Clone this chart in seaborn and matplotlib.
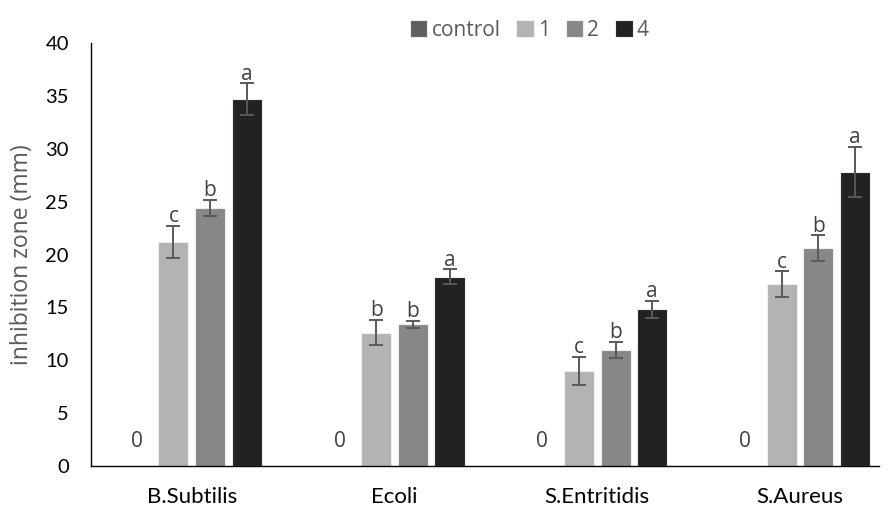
import pandas as pd
import matplotlib.pyplot as plt
import seaborn as sns

bacteria = ["B.Subtilis", "Ecoli", "S.Entritidis", "S.Aureus"]
doses = ["control", "1", "2", "4"]

control = [0, 0, 0, 0]
dose1 = [21.2, 12.6, 9.0, 17.2]
dose2 = [24.4, 13.4, 11.0, 20.6]
dose4 = [34.7, 17.9, 14.8, 27.8]

err_control = [0, 0, 0, 0]
err1 = [1.5, 1.2, 1.35, 1.2]
err2 = [0.8, 0.35, 0.75, 1.2]
err4 = [1.5, 0.7, 0.8, 2.4]

letters_control = ["0", "0", "0", "0"]
letters1 = ["c", "b", "c", "c"]
letters2 = ["b", "b", "b", "b"]
letters4 = ["a", "a", "a", "a"]

colors = ["#5f5f5f", "#b3b3b3", "#878787", "#222222"]

sns.set_style("white")
plt.rcParams['font.family'] = ['Lato', 'DejaVu Sans']
label_font = ['Open Sans', 'DejaVu Sans']

rows = []
for dose, vals in zip(doses, [control, dose1, dose2, dose4]):
    for b, v in zip(bacteria, vals):
        rows.append({"bacteria": b, "dose": dose, "value": v})
df = pd.DataFrame(rows)

fig = plt.figure(figsize=(8.88, 5.07), dpi=100)
ax = fig.add_axes([91/888, 41/507, 788/888, 423/507])

sns.barplot(data=df, x="bacteria", y="value", hue="dose", order=bacteria,
            hue_order=doses, palette=colors, width=0.724, gap=0.18,
            errorbar=None, edgecolor="#eeeeee", linewidth=0.8, ax=ax)

errs = [err_control, err1, err2, err4]
letters = [letters_control, letters1, letters2, letters4]
for cont, e, lab in zip(ax.containers, errs, letters):
    xs = [p.get_x() + p.get_width() / 2 for p in cont.patches]
    hs = [p.get_height() for p in cont.patches]
    if any(e):
        ax.errorbar(xs, hs, yerr=e, fmt="none", ecolor="#595959",
                    elinewidth=1.4, capsize=5, capthick=1.4, zorder=3)
    for x, h, err, t in zip(xs, hs, e, lab):
        off = 10 if h == 0 else -1
        ax.annotate(t, (x, h + err), xytext=(0, off), textcoords="offset points",
                    ha="center", va="bottom", fontsize=15, color="#404040",
                    family=label_font)

ax.set_ylim(0, 40)
ax.set_yticks(range(0, 41, 5))
ax.set_xlim(-0.497, 3.39)
ax.set_xlabel("")
ax.set_ylabel("inhibition zone (mm)", fontsize=16.5, color="#595959",
              family=label_font, labelpad=8)
ax.tick_params(axis="both", length=0, colors="black")
ax.tick_params(axis="x", pad=15, labelsize=16)
ax.tick_params(axis="y", pad=16, labelsize=14.5)
for s in ["top", "right"]:
    ax.spines[s].set_visible(False)
for s in ["left", "bottom"]:
    ax.spines[s].set_color("black")
    ax.spines[s].set_linewidth(1.0)

handles, labels = ax.get_legend_handles_labels()
ax.legend(handles, labels, loc="center", bbox_to_anchor=(0.556, 1.03), ncol=4,
          frameon=False, prop={"family": label_font, "size": 15},
          handlelength=0.85, handleheight=0.85, handletextpad=0.2,
          columnspacing=0.75, labelcolor="#595959")

fig.savefig("out.png", dpi=100)
